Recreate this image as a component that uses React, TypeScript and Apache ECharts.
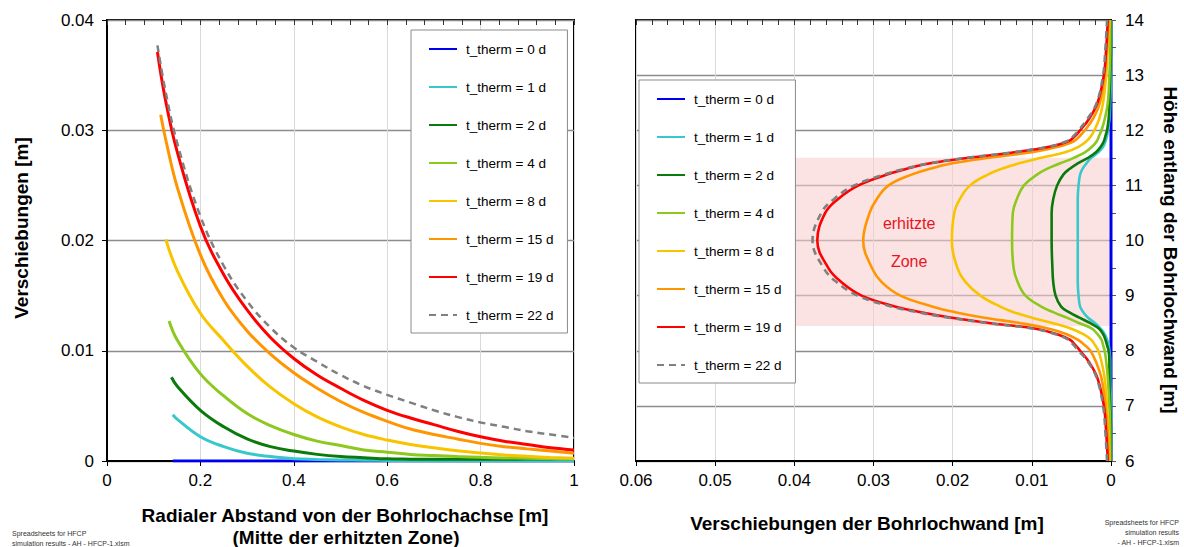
import React, { useEffect, useRef } from "react";
import * as echarts from "echarts";

const FONT = "'Liberation Sans', Arial, Helvetica, sans-serif";

// Legend entries (heating duration) and their line colours
const SERIES_NAMES = [
  "t_therm = 0 d",
  "t_therm = 1 d",
  "t_therm = 2 d",
  "t_therm = 4 d",
  "t_therm = 8 d",
  "t_therm = 15 d",
  "t_therm = 19 d",
  "t_therm = 22 d",
];
const SERIES_COLORS = ["#0000f0", "#38c8cc", "#0a7a0a", "#8cc81e", "#f8c400", "#ff9600", "#ff0000", "#808080"];

// ---- Left chart: displacement vs. radial distance (middle of the heated zone) ----
const R_GRID = [0.125, 0.15, 0.2, 0.25, 0.3, 0.35, 0.4, 0.45, 0.5, 0.55, 0.6, 0.65, 0.7, 0.75, 0.8, 0.85, 0.9, 0.95, 1.0];
const R_START = [0.141, 0.141, 0.138, 0.133, 0.126, 0.115, 0.108, 0.108];
const U_START = [0, 0.0042, 0.0076, 0.0127, 0.0201, 0.0314, 0.0371, 0.0377];
const U_R_0D = [null, 0, 0, 0, 0, 0, 0, 0, 0, 0, 0, 0, 0, 0, 0, 0, 0, 0, 0];
const U_R_1D = [null, 0.0038, 0.0022, 0.0013, 0.0007, 0.0004, 0.0002, 0.00014, 0.0001, 0.00007, 0.00005, 0.00002, 0, 0, 0, 0, 0, 0, 0];
const U_R_2D = [null, 0.0068, 0.0046, 0.0031, 0.002, 0.0013, 0.0009, 0.0006, 0.0004, 0.0003, 0.0002, 0.00017, 0.00015, 0.00015, 0.00015, 0.00016, 0.00018, 0.00019, 0.0002];
const U_R_4D = [null, 0.011, 0.0079, 0.0059, 0.0043, 0.0032, 0.0024, 0.0018, 0.0014, 0.001, 0.0008, 0.0006, 0.0005, 0.0004, 0.00033, 0.00028, 0.00025, 0.00022, 0.0002];
const U_R_8D = [null, 0.0173, 0.0134, 0.0109, 0.0086, 0.0067, 0.0052, 0.004, 0.0031, 0.0024, 0.0019, 0.0015, 0.0012, 0.00093, 0.00072, 0.00055, 0.00042, 0.00032, 0.00025];
const U_R_15D = [0.0293, 0.0249, 0.0187, 0.0146, 0.0118, 0.0097, 0.008, 0.0066, 0.0054, 0.0044, 0.0036, 0.0029, 0.0024, 0.002, 0.0016, 0.0013, 0.0011, 0.0009, 0.0007];
const U_R_19D = [0.0328, 0.0281, 0.0213, 0.0169, 0.0137, 0.0112, 0.0093, 0.0078, 0.0066, 0.0055, 0.0046, 0.0039, 0.0033, 0.0027, 0.0022, 0.0018, 0.0015, 0.0012, 0.001];
const U_R_22D = [0.0336, 0.0289, 0.0222, 0.0177, 0.0145, 0.0121, 0.0103, 0.009, 0.0078, 0.0068, 0.006, 0.0053, 0.0046, 0.004, 0.0035, 0.0031, 0.0027, 0.0024, 0.0021];
const U_R = [U_R_0D, U_R_1D, U_R_2D, U_R_4D, U_R_8D, U_R_15D, U_R_19D, U_R_22D];

// ---- Right chart: borehole wall displacement along the height ----
const H = [
  6, 6.5, 7, 7.5, 7.8, 8, 8.1, 8.2, 8.3, 8.4, 8.5, 8.6, 8.7, 8.8, 9, 9.25, 9.5, 10,
  10.5, 10.75, 11, 11.2, 11.3, 11.4, 11.5, 11.6, 11.7, 11.8, 11.9, 12, 12.2, 12.5, 13, 13.5, 14,
];
const U_H_0D = [
  0, 0, 0, 0, 0, 0, 0, 0, 0, 0, 0, 0, 0, 0, 0, 0, 0, 0,
  0, 0, 0, 0, 0, 0, 0, 0, 0, 0, 0, 0, 0, 0, 0, 0, 0,
];
const U_H_1D = [
  0, 0, 0, 0.0001, 0.0001, 0.0002, 0.0003, 0.0005, 0.0008, 0.0013, 0.002, 0.0029, 0.0035, 0.0039, 0.0041, 0.0042, 0.0042, 0.0042,
  0.0042, 0.0042, 0.0041, 0.0039, 0.0036, 0.0031, 0.0025, 0.0016, 0.001, 0.0007, 0.0005, 0.0004, 0.0002, 0.0001, 0, 0, 0,
];
const U_H_2D = [
  0, 0, 0.0001, 0.0002, 0.0002, 0.0003, 0.0005, 0.0007, 0.001, 0.0015, 0.0026, 0.004, 0.0053, 0.0063, 0.007, 0.0073, 0.0074, 0.0075,
  0.0075, 0.0073, 0.0068, 0.006, 0.0052, 0.0042, 0.0029, 0.0019, 0.0013, 0.0009, 0.0007, 0.0005, 0.0003, 0.0002, 0.0001, 0, 0,
];
const U_H_4D = [
  0.0001, 0.0001, 0.0002, 0.0004, 0.0006, 0.0008, 0.001, 0.0012, 0.0017, 0.0024, 0.004, 0.0056, 0.0073, 0.0088, 0.0108, 0.0118, 0.0123, 0.0125,
  0.0124, 0.0119, 0.011, 0.0093, 0.0081, 0.0064, 0.0047, 0.0033, 0.0024, 0.0018, 0.0015, 0.0012, 0.0008, 0.0004, 0.0002, 0.0001, 0.0001,
];
const U_H_8D = [
  0.0002, 0.0003, 0.0005, 0.0008, 0.0012, 0.0016, 0.002, 0.0025, 0.0035, 0.005, 0.0073, 0.01, 0.0123, 0.014, 0.0165, 0.0184, 0.0194, 0.0201,
  0.0198, 0.0191, 0.0178, 0.0155, 0.0138, 0.0116, 0.0088, 0.0058, 0.0041, 0.0031, 0.0025, 0.0021, 0.0015, 0.001, 0.0006, 0.0004, 0.0002,
];
const U_H_15D = [
  0.0003, 0.0004, 0.0007, 0.0012, 0.0019, 0.0026, 0.0033, 0.0042, 0.0056, 0.0078, 0.0114, 0.016, 0.0197, 0.0225, 0.0266, 0.029, 0.0302, 0.0313,
  0.0305, 0.0296, 0.0281, 0.0251, 0.0229, 0.02, 0.0154, 0.01, 0.0067, 0.0047, 0.0039, 0.0033, 0.0023, 0.0014, 0.0008, 0.0005, 0.0003,
];
const U_H_19D = [
  0.0004, 0.0006, 0.0009, 0.0017, 0.0028, 0.0039, 0.0045, 0.0052, 0.0068, 0.0095, 0.0152, 0.0201, 0.024, 0.0272, 0.0315, 0.0341, 0.0357, 0.0371,
  0.0361, 0.0345, 0.0319, 0.0282, 0.0258, 0.0228, 0.018, 0.0122, 0.0078, 0.0054, 0.0045, 0.0039, 0.0028, 0.0017, 0.0009, 0.0006, 0.0004,
];
const U_H_22D = [
  0.0005, 0.0007, 0.001, 0.0018, 0.0029, 0.0041, 0.0047, 0.0054, 0.007, 0.0098, 0.0155, 0.0205, 0.0245, 0.0277, 0.032, 0.0347, 0.0363, 0.0377,
  0.0366, 0.035, 0.0324, 0.0286, 0.0261, 0.023, 0.0182, 0.0124, 0.008, 0.0056, 0.0047, 0.0041, 0.003, 0.0018, 0.001, 0.0007, 0.0005,
];
const U_H = [U_H_0D, U_H_1D, U_H_2D, U_H_4D, U_H_8D, U_H_15D, U_H_19D, U_H_22D];

// Heated zone (displacement range and height range) and its caption
const ZONE_U = [0.04, 0.0002];
const ZONE_H = [8.45, 11.5];
const ZONE_LABELS = ["erhitzte", "Zone"];
const ZONE_LABEL_POS = [
  [0.0255, 10.31],
  [0.0255, 9.61],
];

const GRID_DARK = "#8c8c8c";
const GRID_LIGHT = "#d9d9d9";

function textEl(x: number, y: number, text: string, opts: any = {}) {
  const align = opts.align || "center";
  return {
    type: "text",
    x,
    y,
    rotation: opts.rotation || 0,
    silent: true,
    style: {
      text,
      fill: opts.color || "#000",
      fontSize: opts.size || 19,
      fontWeight: opts.weight || "bold",
      fontFamily: FONT,
      align,
      verticalAlign: "middle",
      textAlign: align,
      textVerticalAlign: "middle",
    },
  };
}

function buildOption() {
  const legendCommon = {
    orient: "vertical",
    data: SERIES_NAMES,
    itemWidth: 28,
    itemHeight: 14,
    itemGap: 24,
    padding: [12, 14, 11, 17],
    borderColor: "#8a8a8a",
    borderWidth: 1,
    backgroundColor: "#ffffff",
    selectedMode: false,
    // line-only legend keys: hide the symbol drawn over the line
    itemStyle: { opacity: 0 },
    textStyle: { fontSize: 13.5, color: "#000", fontFamily: FONT, padding: [0, 0, 0, 4] },
  };

  const leftSeries = SERIES_NAMES.map((name, i) => {
    const pts: number[][] = [[R_START[i], U_START[i]]];
    R_GRID.forEach((r, k) => {
      const u = U_R[i][k];
      if (u !== null && r > R_START[i]) pts.push([r, u as number]);
    });
    return {
      name,
      type: "line",
      xAxisIndex: 0,
      yAxisIndex: 0,
      symbol: "none",
      smooth: 0.4,
      lineStyle: { color: SERIES_COLORS[i], width: i === 7 ? 2.5 : 3, type: i === 7 ? [7, 5] : "solid" },
      itemStyle: { color: SERIES_COLORS[i] },
      data: pts,
    };
  });

  const rightSeries = SERIES_NAMES.map((name, i) => ({
    name,
    type: "line",
    xAxisIndex: 1,
    yAxisIndex: 1,
    symbol: "none",
    smooth: 0.4,
    lineStyle: { color: SERIES_COLORS[i], width: i === 0 ? 3 : 2.6, type: i === 7 ? [7, 5] : "solid" },
    itemStyle: { color: SERIES_COLORS[i] },
    data: H.map((h, k) => [U_H[i][k], h]),
  }));

  const zoneSeries = {
    type: "custom",
    xAxisIndex: 1,
    yAxisIndex: 1,
    silent: true,
    z: 3,
    data: [[ZONE_U[0], ZONE_H[0], ZONE_U[1], ZONE_H[1]]],
    renderItem: (_params: any, api: any) => {
      const p0 = api.coord([api.value(0), api.value(1)]);
      const p1 = api.coord([api.value(2), api.value(3)]);
      return {
        type: "rect",
        shape: {
          x: Math.min(p0[0], p1[0]),
          y: Math.min(p0[1], p1[1]),
          width: Math.abs(p1[0] - p0[0]),
          height: Math.abs(p1[1] - p0[1]),
        },
        style: { fill: "rgba(250, 205, 205, 0.56)" },
      };
    },
  };

  const zoneLabelSeries = {
    type: "custom",
    xAxisIndex: 1,
    yAxisIndex: 1,
    silent: true,
    z: 4,
    data: ZONE_LABEL_POS,
    renderItem: (params: any, api: any) => {
      const p = api.coord([api.value(0), api.value(1)]);
      return {
        type: "text",
        x: p[0],
        y: p[1],
        style: {
          text: ZONE_LABELS[params.dataIndex],
          fill: "#e8141e",
          fontSize: 16,
          fontFamily: FONT,
          align: "center",
          verticalAlign: "middle",
        },
      };
    },
  };

  const labelStyle = { fontSize: 17, color: "#000", fontFamily: FONT };

  return {
    animation: false,
    backgroundColor: "#ffffff",
    grid: [
      { left: 107, top: 20, width: 467, height: 441, show: true, borderColor: "#000", borderWidth: 2, backgroundColor: "transparent" },
      { left: 636, top: 20, width: 475, height: 441, show: true, borderColor: "#000", borderWidth: 2, backgroundColor: "transparent" },
    ],
    xAxis: [
      {
        type: "value",
        gridIndex: 0,
        min: 0,
        max: 1,
        interval: 0.2,
        axisLine: { show: true, lineStyle: { color: "#000", width: 2 } },
        axisTick: { show: true, length: 5, lineStyle: { color: "#000" } },
        axisLabel: { ...labelStyle, margin: 11 },
        splitLine: { show: true, lineStyle: { color: GRID_LIGHT, width: 1 } },
      },
      {
        type: "value",
        gridIndex: 1,
        min: 0,
        max: 0.06,
        interval: 0.01,
        inverse: true,
        axisLine: { show: true, lineStyle: { color: "#000", width: 2 } },
        axisTick: { show: true, length: 5, lineStyle: { color: "#000" } },
        axisLabel: { ...labelStyle, margin: 11 },
        splitLine: { show: true, lineStyle: { color: GRID_LIGHT, width: 1 } },
      },
      // inner minor tick marks
      {
        type: "value",
        gridIndex: 0,
        min: 0,
        max: 1,
        interval: 0.04,
        axisLine: { show: false },
        axisTick: { show: true, inside: true, length: 5, lineStyle: { color: "#333" } },
        axisLabel: { show: false },
        splitLine: { show: false },
      },
      {
        type: "value",
        gridIndex: 1,
        min: 0,
        max: 0.06,
        interval: 0.002,
        inverse: true,
        axisLine: { show: false },
        axisTick: { show: true, inside: true, length: 5, lineStyle: { color: "#333" } },
        axisLabel: { show: false },
        splitLine: { show: false },
      },
    ],
    yAxis: [
      {
        type: "value",
        gridIndex: 0,
        min: 0,
        max: 0.04,
        interval: 0.01,
        axisLine: { show: true, lineStyle: { color: "#000", width: 2 } },
        axisTick: { show: true, length: 5, lineStyle: { color: "#000" } },
        axisLabel: { ...labelStyle, margin: 13 },
        splitLine: { show: true, lineStyle: { color: GRID_DARK, width: 1.3 } },
      },
      {
        type: "value",
        gridIndex: 1,
        position: "right",
        min: 6,
        max: 14,
        interval: 1,
        axisLine: { show: true, lineStyle: { color: "#000", width: 2 } },
        axisTick: { show: true, length: 5, lineStyle: { color: "#555" } },
        minorTick: { show: true, splitNumber: 2, length: 5, lineStyle: { color: "#555" } },
        axisLabel: { ...labelStyle, margin: 14 },
        splitLine: { show: true, lineStyle: { color: GRID_DARK, width: 1.3 } },
      },
    ],
    legend: [
      { ...legendCommon, left: 411, top: 30 },
      { ...legendCommon, left: 639, top: 80 },
    ],
    series: [...leftSeries, ...rightSeries, zoneSeries, zoneLabelSeries],
    graphic: [
      textEl(21, 228, "Verschiebungen [m]", { rotation: Math.PI / 2 }),
      textEl(345, 515, "Radialer Abstand von der Bohrlochachse [m]"),
      textEl(346, 537, "(Mitte der erhitzten Zone)"),
      textEl(867, 523, "Verschiebungen der Bohrlochwand [m]"),
      textEl(1170, 250, "Höhe entlang der Bohrlochwand [m]", { rotation: -Math.PI / 2 }),
      textEl(12, 533, "Spreadsheets for HFCP", { size: 7, weight: "normal", align: "left", color: "#333" }),
      textEl(12, 543, "simulation results - AH - HFCP-1.xlsm", { size: 7, weight: "normal", align: "left", color: "#333" }),
      textEl(1179, 522, "Spreadsheets for HFCP", { size: 7, weight: "normal", align: "right", color: "#333" }),
      textEl(1179, 532, "simulation results", { size: 7, weight: "normal", align: "right", color: "#333" }),
      textEl(1179, 542, "- AH - HFCP-1.xlsm", { size: 7, weight: "normal", align: "right", color: "#333" }),
    ],
  };
}

export default function App() {
  const ref = useRef<HTMLDivElement | null>(null);

  useEffect(() => {
    if (!ref.current) return;
    const chart = echarts.init(ref.current, undefined, { renderer: "svg" });
    chart.setOption(buildOption() as any);
    return () => chart.dispose();
  }, []);

  return (
    <div
      ref={ref}
      style={{ position: "fixed", left: 0, top: 0, width: 1184, height: 547, background: "#fff" }}
    />
  );
}
